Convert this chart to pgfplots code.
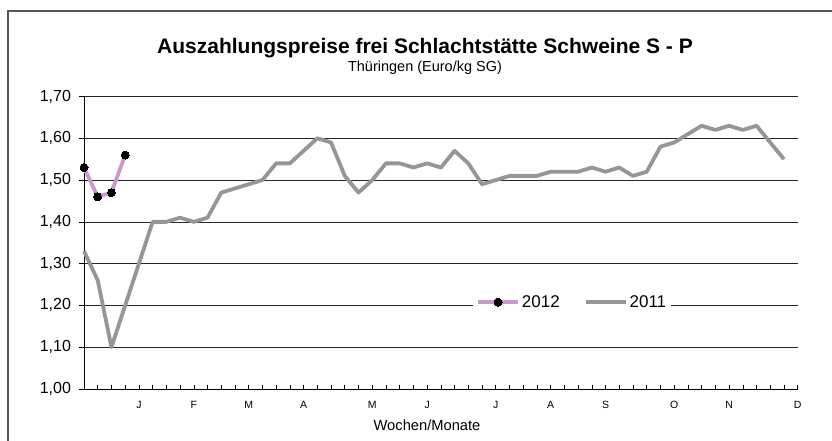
\documentclass[border=0pt]{standalone}
\usepackage{fontspec}
\setmainfont{Liberation Sans}
\usepackage{pgfplots}
\pgfplotsset{compat=1.18}
\definecolor{framec}{RGB}{80,88,92}
\definecolor{c2011}{RGB}{150,150,150}
\definecolor{c2012}{RGB}{204,153,204}
\begin{document}
\begin{tikzpicture}[x=1pt,y=1pt]
\useasboundingbox (0,0) rectangle (832,441);
\begin{scope}
\clip (0,0) rectangle (832,441);
\draw[framec, line width=2pt] (8,-20) rectangle (850,430);
\end{scope}
\node[anchor=base, inner sep=0pt, font=\fontsize{21}{25}\selectfont\bfseries] at (425,387.7) {Auszahlungspreise frei Schlachtstätte Schweine S - P};
\node[anchor=base, inner sep=0pt, font=\fontsize{14.5}{17}\selectfont] at (425,369.3) {Thüringen (Euro/kg SG)};
\begin{axis}[
  at={(84pt,52pt)}, anchor=south west,
  scale only axis, width=713.7pt, height=292.5pt,
  xmin=0, xmax=52, ymin=1, ymax=1.7,
  axis x line*=bottom, axis y line*=left,
  axis line style={black, line width=0.8pt, -},
  ytick={1,1.1,1.2,1.3,1.4,1.5,1.6,1.7},
  ymajorgrids,
  major grid style={black!85, line width=0.7pt},
  tick align=outside,
  major tick length=5pt, minor tick length=3.5pt,
  xtick={4,8,12,16,21,25,30,34,38,43,47,52},
  xticklabels={J,F,M,A,M,J,J,A,S,O,N,D},
  minor xtick={0,1,...,52},
  major x tick style={draw=none},
  minor x tick style={yshift=3.5pt, black, line width=0.6pt},
  y tick style={black, line width=0.6pt},
  /pgf/number format/assume math mode=true,
  yticklabel style={font=\fontsize{16}{19}\selectfont, xshift=-4.5pt,
    /pgf/number format/fixed, /pgf/number format/fixed zerofill,
    /pgf/number format/precision=2, /pgf/number format/use comma},
  xticklabel style={font=\fontsize{10.5}{12}\selectfont, yshift=-3.5pt},
  xlabel={Wochen/Monate},
  xlabel style={font=\fontsize{14.7}{17}\selectfont, at={(axis description cs:0.4806,-0.123)}, anchor=center},
  legend style={at={(axis description cs:0.684,0.297)}, anchor=center, draw=none, fill=white,
    font=\fontsize{17}{20}\selectfont, legend columns=2,
    /tikz/every even column/.append style={column sep=22pt}},
  legend image code/.code={\draw[mark repeat=2,mark phase=2,#1] plot coordinates {(0pt,0pt) (20pt,0pt) (40pt,0pt)};},
  reverse legend,
  clip=false,
]
\addplot[c2011, line width=3.8pt, line join=round] coordinates {
(0,1.33) (1,1.26) (2,1.10) (3,1.20) (4,1.30) (5,1.40) (6,1.40) (7,1.41) (8,1.40) (9,1.41)
(10,1.47) (11,1.48) (12,1.49) (13,1.50) (14,1.54) (15,1.54) (16,1.57) (17,1.60) (18,1.59) (19,1.51)
(20,1.47) (21,1.50) (22,1.54) (23,1.54) (24,1.53) (25,1.54) (26,1.53) (27,1.57) (28,1.54) (29,1.49)
(30,1.50) (31,1.51) (32,1.51) (33,1.51) (34,1.52) (35,1.52) (36,1.52) (37,1.53) (38,1.52) (39,1.53)
(40,1.51) (41,1.52) (42,1.58) (43,1.59) (44,1.61) (45,1.63) (46,1.62) (47,1.63) (48,1.62) (49,1.63)
(50,1.59) (51,1.55)
};
\addlegendentry{2011}
\addplot[c2012, line width=3.8pt, line join=round, mark=*, mark size=4pt, mark options={black, fill=black, line width=0pt}] coordinates {
(0,1.53) (1,1.46) (2,1.47) (3,1.56)
};
\addlegendentry{2012}
\end{axis}
\end{tikzpicture}
\end{document}
